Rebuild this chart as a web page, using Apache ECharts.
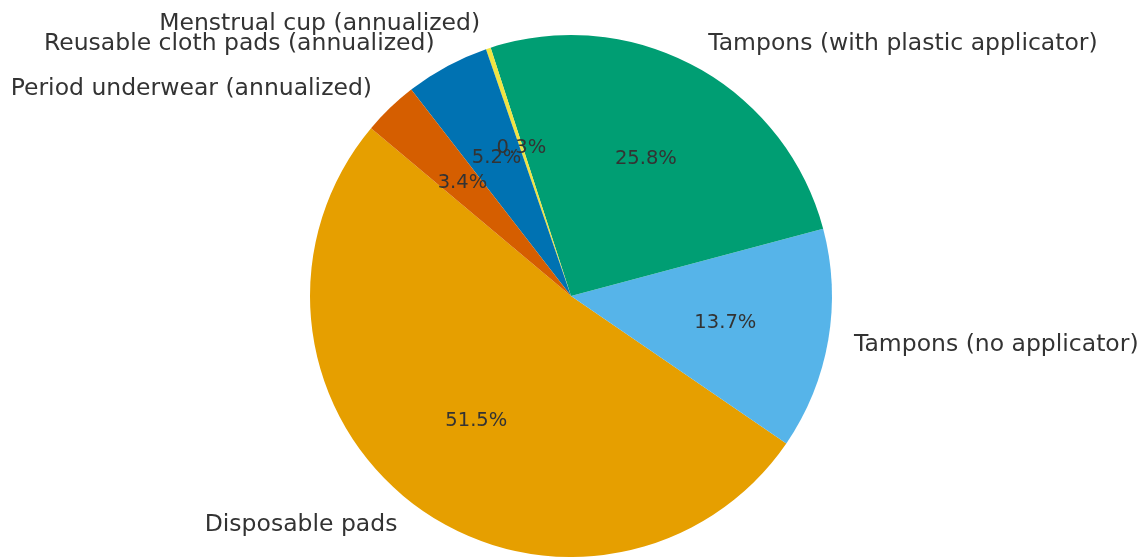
<!DOCTYPE html>
<html>
<head>
<meta charset="utf-8">
<script src="https://cdn.jsdelivr.net/npm/echarts@6/dist/echarts.min.js"></script>
<style>
  html, body { margin: 0; padding: 0; background: #ffffff; }
  #chart { width: 1146px; height: 557px; }
</style>
</head>
<body>
<div id="chart"></div>
<script>
// Share of each menstrual product (percent)
const categories = [
  'Disposable pads',
  'Tampons (no applicator)',
  'Tampons (with plastic applicator)',
  'Menstrual cup (annualized)',
  'Reusable cloth pads (annualized)',
  'Period underwear (annualized)'
];
const shares = [51.5, 13.7, 25.8, 0.3, 5.2, 3.4];
const sliceColors = ['#E69F00', '#56B4E9', '#009E73', '#F0E442', '#0072B2', '#D55E00'];

const R = 261;              // pie radius
const CENTER = [571, 296];
const FONT = 'DejaVu Sans';
const TEXT = '#333333';

const pieData = categories.map((name, i) => ({
  name: name,
  value: shares[i],
  itemStyle: { color: sliceColors[i] }
}));

const chart = echarts.init(document.getElementById('chart'), null, { renderer: 'canvas' });
chart.setOption({
  animation: false,
  backgroundColor: '#ffffff',
  series: [
    {
      // visible pie with category names outside
      type: 'pie',
      center: CENTER,
      radius: [0, R],
      startAngle: 140,
      clockwise: false,
      avoidLabelOverlap: false,
      silent: true,
      data: pieData,
      itemStyle: { borderWidth: 0 },
      labelLayout: { hideOverlap: false },
      label: {
        show: true,
        position: 'outside',
        formatter: '{b}',
        fontFamily: FONT,
        fontSize: 23.5,
        color: TEXT,
        overflow: 'none',
        bleedMargin: 0,
        distanceToLabelLine: 0,
        minMargin: 0
      },
      labelLine: { show: false, length: R * 0.1, length2: 0 }
    },
    {
      // transparent ring used only to place the percentage labels at 0.6 R
      type: 'pie',
      center: CENTER,
      radius: [0, 2 * (0.6 * R - 3)],
      startAngle: 140,
      clockwise: false,
      avoidLabelOverlap: false,
      silent: true,
      z: 3,
      data: categories.map((name, i) => ({ name: name, value: shares[i] })),
      itemStyle: { color: 'rgba(0,0,0,0)', borderWidth: 0 },
      labelLayout: { hideOverlap: false },
      label: {
        show: true,
        position: 'inside',
        formatter: (p) => p.value.toFixed(1) + '%',
        fontFamily: FONT,
        fontSize: 19.5,
        color: TEXT,
        overflow: 'none'
      },
      labelLine: { show: false }
    }
  ]
});
</script>
</body>
</html>
